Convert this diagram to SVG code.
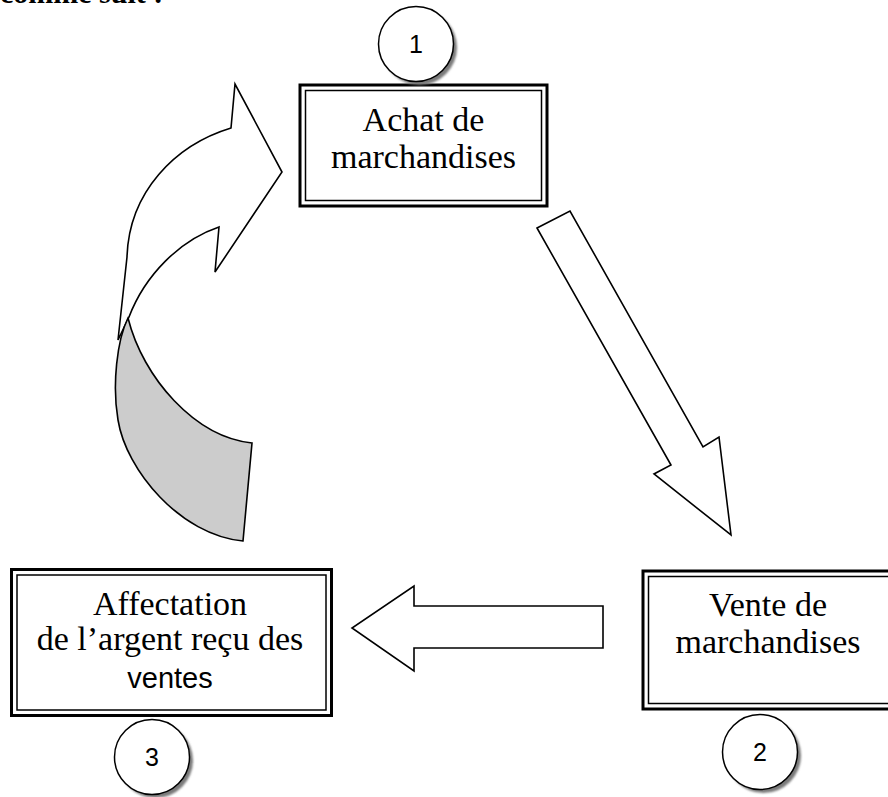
<svg xmlns="http://www.w3.org/2000/svg" width="888" height="797" viewBox="0 0 888 797">
  <defs>
    <filter id="blur" x="-20%" y="-20%" width="140%" height="140%">
      <feGaussianBlur stdDeviation="1.2"/>
    </filter>
  </defs>
  <style>
    .outer { fill: #ffffff; stroke: #000000; stroke-width: 3; }
    .inner { fill: none; stroke: #000000; stroke-width: 1.5; }
    .label { font-family: "Liberation Serif", "Times New Roman", serif; font-size: 34px; fill: #000000; text-anchor: middle; }
    .sans { font-family: "Liberation Sans", Arial, sans-serif; font-size: 29px; fill: #000000; text-anchor: middle; }
    .num { font-family: "Liberation Sans", Arial, sans-serif; font-size: 25px; fill: #000000; text-anchor: middle; }
    .circ { fill: #ffffff; stroke: #000000; stroke-width: 1.5; }
    .shadow { fill: #7a7a7a; filter: url(#blur); }
    .arrow { fill: #ffffff; stroke: #000000; stroke-width: 1.6; stroke-linejoin: miter; }
    .back { fill: #cccccc; stroke: #000000; stroke-width: 1.6; }
  </style>
  <rect width="888" height="797" fill="#ffffff"/>
  <text x="0" y="3" font-family="'Liberation Serif', 'Times New Roman', serif" font-size="30" font-weight="bold" fill="#000000">comme suit :</text>

  <g id="connectors">
    <!-- curved arrow from box 3 to box 1 -->
    <path class="arrow" d="M118,340 L127,257 C129,192 175,145 231,128 L235,84 L282,172 L215,272 L219,227 C180,240 145,275 129,317 Z"/>
    <path class="back" d="M128,318 C117,340 112,385 118,420 C126,470 180,535 243,541 L252,443 C195,437 143,378 128,318 Z"/>
    <!-- arrow from box 1 to box 2 -->
    <path class="arrow" d="M537,228 L570,211 L703,447 L719,437 L731,535 L654,474 L671,465 Z"/>
    <!-- arrow from box 2 to box 3 -->
    <path class="arrow" d="M603,606 L414,606 L414,586 L352,628 L414,671 L414,648 L603,648 Z"/>
  </g>

  <g id="node-achat">
    <rect class="outer" x="300" y="85" width="247" height="121"/>
    <rect class="inner" x="305.5" y="90.5" width="236" height="110"/>
    <text class="label" x="423.5" y="131">Achat de</text>
    <text class="label" x="423.5" y="168">marchandises</text>
  </g>

  <g id="node-vente">
    <rect class="outer" x="643" y="571" width="270" height="138"/>
    <rect class="inner" x="648.5" y="576.5" width="259" height="127"/>
    <text class="label" x="768" y="616">Vente de</text>
    <text class="label" x="768" y="653">marchandises</text>
  </g>

  <g id="node-affectation">
    <rect class="outer" x="11.5" y="569.5" width="320" height="146"/>
    <rect class="inner" x="17" y="575" width="309" height="135"/>
    <text class="label" x="170" y="615">Affectation</text>
    <text class="label" x="170" y="650">de l’argent reçu des</text>
    <text class="sans" x="170" y="688">ventes</text>
  </g>

  <g id="badge-1">
    <circle class="shadow" cx="419.5" cy="47.5" r="37.5"/>
    <circle class="circ" cx="416" cy="44" r="37.5"/>
    <text class="num" x="416" y="53">1</text>
  </g>

  <g id="badge-2">
    <circle class="shadow" cx="763.5" cy="755.5" r="37.5"/>
    <circle class="circ" cx="760" cy="752" r="37.5"/>
    <text class="num" x="760" y="761">2</text>
  </g>

  <g id="badge-3">
    <circle class="shadow" cx="155.5" cy="760.5" r="37.5"/>
    <circle class="circ" cx="152" cy="757" r="37.5"/>
    <text class="num" x="152" y="766">3</text>
  </g>
</svg>
